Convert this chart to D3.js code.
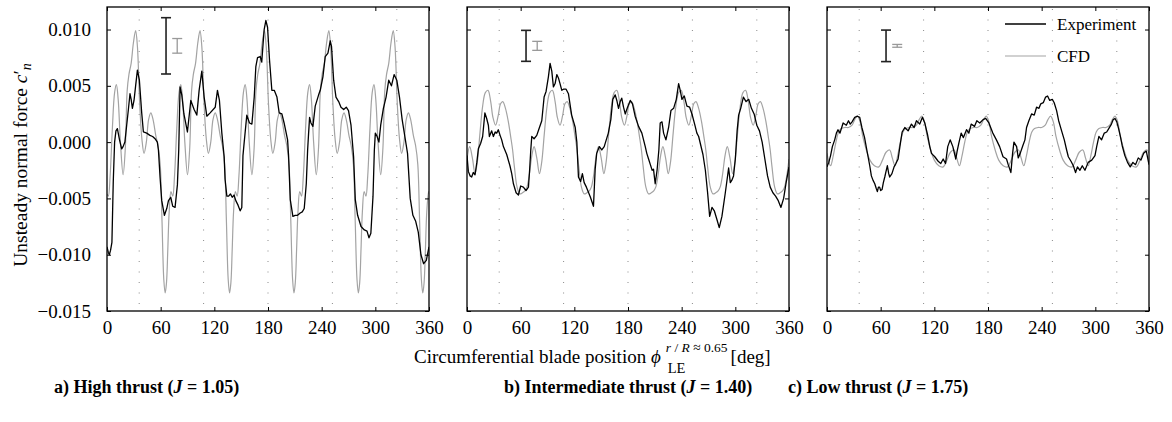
<!DOCTYPE html>
<html lang="en">
<head>
<meta charset="UTF-8">
<title>Unsteady normal force vs blade position</title>
<script src="https://cdn.jsdelivr.net/npm/d3@7"></script>
<style>
  body { margin: 0; background: #fff; }
  svg { display: block; font-family: "Liberation Serif", "Times New Roman", serif; }
</style>
</head>
<body>
<svg id="chart" width="1172" height="422"></svg>
<script>
// ---- data ----
const phiTicks = [0, 60, 120, 180, 240, 300, 360];
const cnTicks = [0.010, 0.005, 0.000, -0.005, -0.010, -0.015];
const strutPhi = [36, 108, 180, 252, 324];
const seriesNames = ["Experiment", "CFD"];
const captions = [
  ["a) High thrust (", "J", " = 1.05)"],
  ["b) Intermediate thrust (", "J", " = 1.40)"],
  ["c) Low thrust (", "J", " = 1.75)"]
];
// uncertainty bars: centre value and full length, experiment / CFD
const errCentre = 0.00855;
const errExp = [0.0050, 0.00275, 0.0028];
const errCfd = [0.0013, 0.0008, 0.00025];
const errPhi = [66, 78.5];

// a) high thrust, J = 1.05
const expHigh = [[0,-0.0093],[1.5,-0.0098],[2.6,-0.0100],[4,-0.0096],[5.5,-0.0089],[7,-0.0035],[8.5,0.0000],[10,0.0010],[11.6,0.0012],[14,0.0002],[16.4,-0.0006],[18,-0.0004],[20,0.0000],[22,0.0015],[23.9,0.0029],[25.7,0.0043],[27,0.0038],[28.4,0.0030],[30.2,0.0037],[32,0.0050],[34,0.0064],[36.2,0.0055],[38.8,0.0026],[40.7,0.0009],[44.4,0.0008],[48,0.0006],[51,0.0005],[53.7,0.0003],[56.3,0.0000],[57.5,-0.0007],[59.3,-0.0031],[61.2,-0.0052],[64.2,-0.0065],[66.8,-0.0059],[68.7,-0.0052],[71.3,-0.0049],[73.5,-0.0057],[76.1,-0.0058],[78.7,-0.0038],[80.2,-0.0007],[81.7,0.0049],[83.6,0.0042],[86,0.0025],[89.9,0.0009],[93.7,0.0037],[97.4,0.0029],[100.4,0.0024],[103,0.0046],[106,0.0063],[108.6,0.0040],[111.6,0.0023],[115.3,0.0026],[121,0.0031],[123.5,0.0046],[125.7,0.0037],[128.4,0.0008],[131,-0.0013],[132,-0.0033],[134,-0.0048],[136,-0.0048],[138,-0.0046],[140,-0.0049],[142,-0.0047],[144,-0.0052],[146.5,-0.0056],[148.9,-0.0061],[150.7,-0.0058],[152,-0.0012],[153.4,0.0000],[156.3,0.0024],[159.3,0.0017],[162,0.0016],[164.6,0.0040],[166.4,0.0067],[168.3,0.0075],[171.3,0.0076],[173,0.0071],[175.7,0.0100],[177.6,0.0108],[179.5,0.0102],[181.7,0.0073],[184.3,0.0046],[187,0.0046],[190,0.0040],[192.5,0.0026],[195.5,0.0025],[198,0.0017],[201.9,0.0002],[203,-0.0012],[204.9,-0.0051],[207.8,-0.0066],[210.4,-0.0065],[213,-0.0065],[216,-0.0063],[218.3,-0.0062],[220.5,-0.0059],[222.8,-0.0037],[224.3,-0.0007],[225.4,0.0008],[226.5,0.0022],[228,0.0017],[230.2,0.0014],[232.8,0.0032],[236.6,0.0042],[238.4,0.0046],[241.4,0.0058],[244,0.0076],[247,0.0079],[249.6,0.0090],[251,0.0085],[253.4,0.0055],[256,0.0040],[259,0.0036],[261.6,0.0031],[264.6,0.0029],[267.5,0.0031],[270,0.0028],[272.8,0.0015],[275.7,-0.0013],[277.6,-0.0051],[280.2,-0.0065],[284,-0.0075],[287.7,-0.0078],[290.7,-0.0079],[292.9,-0.0085],[295,-0.0081],[297.4,-0.0048],[298.9,-0.0007],[300,0.0008],[302,0.0005],[304,0.0000],[306,0.0015],[309,0.0030],[312,0.0040],[315,0.0055],[318,0.0050],[321,0.0060],[324,0.0055],[327,0.0040],[330,0.0020],[333,0.0005],[336,-0.0010],[339,-0.0050],[342,-0.0065],[345,-0.0070],[348,-0.0080],[351,-0.0100],[354,-0.0108],[357,-0.0105],[360,-0.0093]];
const cfdHigh = [[0,-0.0046],[1.5,-0.0048],[3.5,-0.0030],[6,0.0012],[8.5,0.0044],[10.5,0.0051],[12.5,0.0038],[15,0.0000],[18,-0.0029],[20.5,-0.0005],[22.5,0.0045],[24.5,0.0060],[27,0.0070],[29.5,0.0088],[32,0.0099],[34,0.0085],[36.5,0.0035],[39,0.0003],[41.4,-0.0010],[44,0.0000],[46.5,0.0020],[49,0.0026],[51.5,0.0020],[54.5,0.0006],[57,-0.0003],[59.5,-0.0020],[61.5,-0.0070],[63.5,-0.0122],[65,-0.0134],
  [66.5,-0.0125],[68,-0.0095],[69.5,-0.0062],[71.5,-0.0044],[73.5,-0.0048],[75.5,-0.0030],[78,0.0012],[80.5,0.0044],[82.5,0.0051],[84.5,0.0038],[87,0.0000],[90,-0.0029],[92.5,-0.0005],[94.5,0.0045],[96.5,0.0060],[99,0.0070],[101.5,0.0088],[104,0.0099],[106,0.0085],[108.5,0.0035],[111,0.0003],[113.4,-0.0010],[116,0.0000],[118.5,0.0020],[121,0.0026],[123.5,0.0020],[126.5,0.0006],[129,-0.0003],[131.5,-0.0020],[133.5,-0.0070],[135.5,-0.0122],[137,-0.0134],
  [138.5,-0.0125],[140,-0.0095],[141.5,-0.0062],[143.5,-0.0044],[145.5,-0.0048],[147.5,-0.0030],[150,0.0012],[152.5,0.0044],[154.5,0.0051],[156.5,0.0038],[159,0.0000],[162,-0.0029],[164.5,-0.0005],[166.5,0.0045],[168.5,0.0060],[171,0.0070],[173.5,0.0088],[176,0.0099],[178,0.0085],[180.5,0.0035],[183,0.0003],[185.4,-0.0010],[188,0.0000],[190.5,0.0020],[193,0.0026],[195.5,0.0020],[198.5,0.0006],[201,-0.0003],[203.5,-0.0020],[205.5,-0.0070],[207.5,-0.0122],[209,-0.0134],
  [210.5,-0.0125],[212,-0.0095],[213.5,-0.0062],[215.5,-0.0044],[217.5,-0.0048],[219.5,-0.0030],[222,0.0012],[224.5,0.0044],[226.5,0.0051],[228.5,0.0038],[231,0.0000],[234,-0.0029],[236.5,-0.0005],[238.5,0.0045],[240.5,0.0060],[243,0.0070],[245.5,0.0088],[248,0.0099],[250,0.0085],[252.5,0.0035],[255,0.0003],[257.4,-0.0010],[260,0.0000],[262.5,0.0020],[265,0.0026],[267.5,0.0020],[270.5,0.0006],[273,-0.0003],[275.5,-0.0020],[277.5,-0.0070],[279.5,-0.0122],[281,-0.0134],
  [282.5,-0.0125],[284,-0.0095],[285.5,-0.0062],[287.5,-0.0044],[289.5,-0.0048],[291.5,-0.0030],[294,0.0012],[296.5,0.0044],[298.5,0.0051],[300.5,0.0038],[303,0.0000],[306,-0.0029],[308.5,-0.0005],[310.5,0.0045],[312.5,0.0060],[315,0.0070],[317.5,0.0088],[320,0.0099],[322,0.0085],[324.5,0.0035],[327,0.0003],[329.4,-0.0010],[332,0.0000],[334.5,0.0020],[337,0.0026],[339.5,0.0020],[342.5,0.0006],[345,-0.0003],[347.5,-0.0020],[349.5,-0.0070],[351.5,-0.0122],[353,-0.0134],
  [354.5,-0.0125],[356,-0.0095],[357.5,-0.0062],[359.5,-0.0044],[360,-0.0046]];

// b) intermediate thrust, J = 1.40
const expMid = [[0,-0.0012],[1.5,-0.0026],[3.5,-0.0030],[5.2,-0.0031],[7,-0.0027],[9,-0.0029],[11,-0.0018],[12.7,-0.0006],[15.3,-0.0001],[17.5,0.0005],[20,0.0026],[22,0.0021],[23.9,0.0015],[25,0.0005],[27.6,0.0010],[29.5,0.0005],[31.5,0.0009],[33.2,0.0008],[35,0.0011],[37,0.0006],[38.8,0.0002],[40.7,-0.0004],[44.4,-0.0011],[48,-0.0021],[50,-0.0028],[51.9,-0.0037],[54.9,-0.0045],[57.5,-0.0047],[60,-0.0039],[63,-0.0040],[66,-0.0043],[68.7,-0.0040],[70,-0.0025],[71.3,-0.0007],[72.4,0.0005],[75,0.0003],[78,0.0006],[81,0.0013],[83.6,0.0019],[86.2,0.0040],[88.4,0.0045],[91,0.0058],[92.9,0.0070],[94.8,0.0063],[96.6,0.0049],[98.5,0.0052],[100.4,0.0060],[102.2,0.0057],[104,0.0052],[106,0.0046],[107.8,0.0047],[110.8,0.0047],[113.4,0.0043],[117,0.0024],[121,0.0013],[122.8,0.0000],[124.6,-0.0031],[127,-0.0035],[129,-0.0028],[131,-0.0036],[133.5,-0.0040],[136,-0.0045],[138,-0.0049],[141.4,-0.0057],[143.3,-0.0024],[145,-0.0010],[148,-0.0004],[150.7,-0.0007],[153.4,-0.0004],[158,0.0008],[160.8,0.0020],[163,0.0038],[165.7,0.0042],[167.5,0.0037],[169.4,0.0030],[171.3,0.0036],[173,0.0039],[175,0.0031],[176.9,0.0025],[179.5,0.0031],[182.5,0.0037],[185,0.0034],[188,0.0023],[191.8,0.0014],[195.5,0.0008],[199.3,-0.0004],[201,-0.0010],[203,-0.0015],[205,-0.0020],[207,-0.0025],[208.5,-0.0024],[210.4,-0.0037],[212.5,-0.0025],[214.5,-0.0007],[216,0.0017],[218,0.0018],[219.8,0.0008],[222.4,0.0002],[225.4,0.0013],[228,0.0028],[231,0.0030],[234,0.0038],[236.6,0.0052],[238.4,0.0046],[240.3,0.0038],[242.9,0.0041],[245.9,0.0032],[248.9,0.0031],[251.5,0.0025],[254.5,0.0016],[257,0.0008],[259,0.0005],[260.8,-0.0001],[263.8,-0.0011],[266.5,-0.0025],[269,-0.0045],[271.3,-0.0066],[273.9,-0.0058],[276.5,-0.0061],[279.5,-0.0069],[282,-0.0076],[285,-0.0066],[288.8,-0.0045],[290.5,-0.0035],[292.5,-0.0023],[294.4,-0.0036],[296,-0.0034],[298,-0.0030],[300,-0.0015],[302,0.0010],[303.7,0.0024],[306,0.0030],[309,0.0040],[312,0.0036],[315,0.0038],[318,0.0030],[321,0.0025],[324,0.0015],[327,0.0010],[330,0.0000],[333,-0.0015],[336,-0.0030],[339,-0.0040],[342,-0.0045],[345,-0.0048],[348,-0.0052],[351,-0.0058],[354,-0.0050],[357,-0.0035],[360,-0.0022]];
const cfdMid = [[0,-0.0015],[3,-0.0004],[6,-0.0014],[9,-0.0028],[11.5,-0.0018],[14.5,0.0008],[17.5,0.0032],[20.5,0.0044],[23.5,0.0046],[26.5,0.0036],[29,0.0022],[32,0.0015],[35,0.0024],[37.5,0.0034],[40,0.0036],[43,0.0030],[46,0.0019],[49,0.0004],[51,-0.0007],[53,-0.0022],[56,-0.0040],[59,-0.0046],
  [62,-0.0045],[65,-0.0043],[67,-0.0040],[69.5,-0.0030],[72.5,-0.0012],[75,-0.0004],[78,-0.0014],[81,-0.0028],[83.5,-0.0018],[86.5,0.0008],[89.5,0.0032],[92.5,0.0044],[95.5,0.0046],[98.5,0.0036],[101,0.0022],[104,0.0015],[107,0.0024],[109.5,0.0034],[112,0.0036],[115,0.0030],[118,0.0019],[121,0.0004],[123,-0.0007],[125,-0.0022],[128,-0.0040],[131,-0.0046],
  [134,-0.0045],[137,-0.0043],[139,-0.0040],[141.5,-0.0030],[144.5,-0.0012],[147,-0.0004],[150,-0.0014],[153,-0.0028],[155.5,-0.0018],[158.5,0.0008],[161.5,0.0032],[164.5,0.0044],[167.5,0.0046],[170.5,0.0036],[173,0.0022],[176,0.0015],[179,0.0024],[181.5,0.0034],[184,0.0036],[187,0.0030],[190,0.0019],[193,0.0004],[195,-0.0007],[197,-0.0022],[200,-0.0040],[203,-0.0046],
  [206,-0.0045],[209,-0.0043],[211,-0.0040],[213.5,-0.0030],[216.5,-0.0012],[219,-0.0004],[222,-0.0014],[225,-0.0028],[227.5,-0.0018],[230.5,0.0008],[233.5,0.0032],[236.5,0.0044],[239.5,0.0046],[242.5,0.0036],[245,0.0022],[248,0.0015],[251,0.0024],[253.5,0.0034],[256,0.0036],[259,0.0030],[262,0.0019],[265,0.0004],[267,-0.0007],[269,-0.0022],[272,-0.0040],[275,-0.0046],
  [278,-0.0045],[281,-0.0043],[283,-0.0040],[285.5,-0.0030],[288.5,-0.0012],[291,-0.0004],[294,-0.0014],[297,-0.0028],[299.5,-0.0018],[302.5,0.0008],[305.5,0.0032],[308.5,0.0044],[311.5,0.0046],[314.5,0.0036],[317,0.0022],[320,0.0015],[323,0.0024],[325.5,0.0034],[328,0.0036],[331,0.0030],[334,0.0019],[337,0.0004],[339,-0.0007],[341,-0.0022],[344,-0.0040],[347,-0.0046],
  [350,-0.0045],[353,-0.0043],[355,-0.0040],[357.5,-0.0030],[360,-0.0015]];

// c) low thrust, J = 1.75
const expLow = [[0,-0.0022],[2,-0.0018],[4,-0.0012],[6,-0.0004],[8.6,0.0002],[10.5,0.0008],[12.3,0.0011],[14.5,0.0008],[18,0.0017],[21.6,0.0015],[24,0.0019],[26,0.0016],[28,0.0018],[31,0.0022],[34,0.0023],[36.6,0.0022],[39,0.0013],[42,0.0004],[45,-0.0009],[47.8,-0.0021],[49.6,-0.0030],[51.5,-0.0034],[53.4,-0.0037],[55,-0.0041],[56.3,-0.0044],[57.5,-0.0040],[58.8,-0.0040],[60,-0.0043],[61.6,-0.0042],[63,-0.0036],[64.6,-0.0031],[66,-0.0026],[67.5,-0.0021],[69,-0.0028],[70.1,-0.0031],[72.6,-0.0028],[75,-0.0022],[77,-0.0019],[79.5,-0.0015],[81.5,-0.0004],[84,0.0009],[87,0.0013],[90.7,0.0010],[94.4,0.0016],[97.4,0.0013],[100,0.0019],[103.7,0.0016],[106.7,0.0022],[109.3,0.0017],[112.3,0.0007],[114.9,-0.0004],[116.8,-0.0010],[120.5,-0.0013],[124.3,-0.0017],[127.2,-0.0019],[129.9,-0.0015],[132.5,-0.0019],[134,-0.0010],[135,-0.0004],[137.7,0.0002],[140.7,-0.0004],[144,-0.0015],[145.5,-0.0008],[147.4,-0.0001],[150,0.0008],[152.5,0.0004],[156,0.0011],[158.6,0.0008],[161.2,0.0016],[165,0.0014],[167.5,0.0019],[170.8,0.0017],[174.5,0.0020],[177.4,0.0021],[181,0.0017],[185.4,0.0008],[189.4,0.0002],[193,-0.0004],[196.8,-0.0013],[200.7,-0.0015],[202.6,-0.0020],[205.6,-0.0027],[207.5,-0.0010],[209,0.0000],[212,-0.0004],[213.8,-0.0014],[216,-0.0010],[219,-0.0003],[221.3,0.0002],[223.1,0.0013],[225.7,0.0019],[228.7,0.0025],[231.7,0.0024],[234.3,0.0031],[237,0.0030],[239,0.0034],[241.8,0.0035],[244.4,0.0040],[246.6,0.0041],[249,0.0037],[251.9,0.0038],[254,0.0035],[256.7,0.0028],[259,0.0019],[262.3,0.0010],[265.3,0.0002],[267.9,-0.0007],[269.8,-0.0013],[272.8,-0.0017],[275.4,-0.0021],[277.9,-0.0027],[280,-0.0022],[282.8,-0.0025],[285.4,-0.0021],[288.4,-0.0025],[292,-0.0018],[296,-0.0016],[299.6,-0.0012],[301.5,-0.0004],[304,0.0005],[307,0.0002],[310,0.0008],[312.7,0.0009],[315,0.0012],[318,0.0016],[320,0.0020],[322,0.0021],[324,0.0018],[326,0.0012],[328,0.0005],[330,-0.0003],[333,-0.0012],[336,-0.0018],[339,-0.0022],[342,-0.0018],[345,-0.0020],[348,-0.0014],[351,-0.0016],[354,-0.0010],[357,-0.0008],[360,-0.0020]];
const cfdLow = [[0,-0.0010],[1,-0.0014],[4,-0.0021],[7,-0.0012],[10,0.0000],[13,0.0009],[16,0.0012],[20,0.0013],[24,0.0013],[28,0.0015],[31,0.0020],[34,0.0023],[37,0.0018],[40,0.0005],[44,-0.0007],[48,-0.0016],[53,-0.0021],[58,-0.0022],[62,-0.0016],[66,-0.0009],[70,-0.0007],[73,-0.0014],[76,-0.0021],
  [79,-0.0012],[82,0.0000],[85,0.0009],[88,0.0012],[92,0.0013],[96,0.0013],[100,0.0015],[103,0.0020],[106,0.0023],[109,0.0018],[112,0.0005],[116,-0.0007],[120,-0.0016],[125,-0.0021],[130,-0.0022],[134,-0.0016],[138,-0.0009],[142,-0.0007],[145,-0.0014],[148,-0.0021],
  [151,-0.0012],[154,0.0000],[157,0.0009],[160,0.0012],[164,0.0013],[168,0.0013],[172,0.0015],[175,0.0020],[178,0.0023],[181,0.0018],[184,0.0005],[188,-0.0007],[192,-0.0016],[197,-0.0021],[202,-0.0022],[206,-0.0016],[210,-0.0009],[214,-0.0007],[217,-0.0014],[220,-0.0021],
  [223,-0.0012],[226,0.0000],[229,0.0009],[232,0.0012],[236,0.0013],[240,0.0013],[244,0.0015],[247,0.0020],[250,0.0023],[253,0.0018],[256,0.0005],[260,-0.0007],[264,-0.0016],[269,-0.0021],[274,-0.0022],[278,-0.0016],[282,-0.0009],[286,-0.0007],[289,-0.0014],[292,-0.0021],
  [295,-0.0012],[298,0.0000],[301,0.0009],[304,0.0012],[308,0.0013],[312,0.0013],[316,0.0015],[319,0.0020],[322,0.0023],[325,0.0018],[328,0.0005],[332,-0.0007],[336,-0.0016],[341,-0.0021],[346,-0.0022],[350,-0.0016],[354,-0.0009],[358,-0.0007],[360,-0.0010]];

const panels = [
  { exp: expHigh, cfd: cfdHigh },
  { exp: expMid, cfd: cfdMid },
  { exp: expLow, cfd: cfdLow }
];

// ---- layout ----
const fontFam = '"Liberation Serif", "Times New Roman", serif';
const panelLeft = [107, 467, 827];
const panelW = 322;
const plotTop = 7, plotBottom = 311;
const expColor = "#000", cfdColor = "#a3a3a3";

const svg = d3.select("#chart");
svg.append("rect").attr("width", 1172).attr("height", 422).attr("fill", "#fff");

const y = d3.scaleLinear().domain([-0.015, 0.012]).range([plotBottom, plotTop]);

panels.forEach((p, i) => {
  const x = d3.scaleLinear().domain([0, 360]).range([panelLeft[i], panelLeft[i] + panelW]);
  const g = svg.append("g");

  const clipId = "clip" + i;
  svg.append("clipPath").attr("id", clipId).append("rect")
    .attr("x", x(0)).attr("y", plotTop).attr("width", panelW).attr("height", plotBottom - plotTop);

  // dotted strut lines
  g.selectAll(".strut").data(strutPhi).join("line")
    .attr("x1", d => x(d)).attr("x2", d => x(d))
    .attr("y1", plotTop + 2).attr("y2", plotBottom)
    .attr("stroke", "#8a8a8a").attr("stroke-width", 1)
    .attr("stroke-dasharray", "1,9.5");

  const line = d3.line().x(d => x(d[0])).y(d => y(d[1]));

  g.append("path").datum(p.cfd)
    .attr("clip-path", `url(#${clipId})`)
    .attr("fill", "none").attr("stroke", cfdColor).attr("stroke-width", 1.2)
    .attr("d", line.curve(d3.curveCatmullRom.alpha(0.5)));

  g.append("path").datum(p.exp)
    .attr("clip-path", `url(#${clipId})`)
    .attr("fill", "none").attr("stroke", expColor).attr("stroke-width", 1.3)
    .attr("stroke-linejoin", "round")
    .attr("d", line.curve(d3.curveLinear));

  // uncertainty bars
  [[errPhi[0], errExp[i], "#222", 1.6], [errPhi[1], errCfd[i], "#999", 1.3]].forEach(([ph, len, col, sw]) => {
    const eb = g.append("g").attr("stroke", col).attr("stroke-width", sw);
    const y0 = y(errCentre - len / 2), y1 = y(errCentre + len / 2);
    eb.append("line").attr("x1", x(ph)).attr("x2", x(ph)).attr("y1", y0).attr("y2", y1);
    [y0, y1].forEach(yy => eb.append("line")
      .attr("x1", x(ph) - 5).attr("x2", x(ph) + 5).attr("y1", yy).attr("y2", yy));
  });

  // axes with inward ticks
  const gb = g.append("g").attr("transform", `translate(0,${plotBottom})`)
    .call(d3.axisBottom(x).tickValues(phiTicks).tickSize(-4).tickPadding(10).tickFormat(d3.format("d")));
  const gt = g.append("g").attr("transform", `translate(0,${plotTop})`)
    .call(d3.axisTop(x).tickValues(phiTicks).tickSize(-4).tickFormat(""));
  const gl = g.append("g").attr("transform", `translate(${x(0)},0)`)
    .call(d3.axisLeft(y).tickValues(cnTicks).tickSize(-4).tickPadding(16)
      .tickFormat(i === 0 ? d3.format(".3f") : ""));
  const gr = g.append("g").attr("transform", `translate(${x(360)},0)`)
    .call(d3.axisRight(y).tickValues(cnTicks).tickSize(-4).tickFormat(""));
  [gb, gt, gl, gr].forEach(a => {
    a.select(".domain").remove();
    a.selectAll("text")
      .style("font-family", fontFam).style("font-size", "19px").attr("fill", "#000");
  });

  g.append("rect").attr("x", x(0)).attr("y", plotTop)
    .attr("width", panelW).attr("height", plotBottom - plotTop)
    .attr("fill", "none").attr("stroke", "#000").attr("stroke-width", 1.3);

  // caption
  const cap = svg.append("text").attr("x", [54, 504, 788][i]).attr("y", 393)
    .attr("font-size", 18).attr("font-weight", "bold");
  cap.append("tspan").text(captions[i][0]);
  cap.append("tspan").attr("font-style", "italic").text(captions[i][1]);
  cap.append("tspan").text(captions[i][2]);
});

// legend in the last panel
const leg = svg.append("g");
seriesNames.forEach((name, k) => {
  const ly = 24 + k * 32;
  leg.append("line").attr("x1", 1005).attr("x2", 1046).attr("y1", ly).attr("y2", ly)
    .attr("stroke", k === 0 ? expColor : cfdColor).attr("stroke-width", k === 0 ? 1.4 : 1.2);
  leg.append("text").attr("x", 1057).attr("y", ly + 6).attr("font-size", 17).text(name);
});

// y-axis title
const yt = svg.append("text")
  .attr("transform", "translate(27,165) rotate(-90)")
  .attr("text-anchor", "middle").attr("font-size", 19.5);
yt.append("tspan").text("Unsteady normal force ");
yt.append("tspan").attr("font-style", "italic").text("c");
yt.append("tspan").text("′");
yt.append("tspan").attr("font-style", "italic").attr("font-size", 14).attr("dy", 4).text("n");

// x-axis title with stacked super/subscript
const xtX = 414, xtY = 363;
const xt = svg.append("text").attr("x", xtX).attr("y", xtY).attr("font-size", 19);
xt.append("tspan").text("Circumferential blade position ");
xt.append("tspan").attr("font-style", "italic").text("ϕ");
const xtEnd = xtX + xt.node().getComputedTextLength();
const sup = svg.append("text").attr("x", xtEnd + 5).attr("y", xtY - 11).attr("font-size", 13.5);
sup.append("tspan").attr("font-style", "italic").text("r");
sup.append("tspan").text(" / ");
sup.append("tspan").attr("font-style", "italic").text("R");
sup.append("tspan").text(" ≈ 0.65");
svg.append("text").attr("x", xtEnd + 7).attr("y", xtY + 10).attr("font-size", 14.5).text("LE");
const supEnd = xtEnd + 5 + sup.node().getComputedTextLength();
svg.append("text").attr("x", supEnd + 3).attr("y", xtY).attr("font-size", 19).text("[deg]");
</script>
</body>
</html>
